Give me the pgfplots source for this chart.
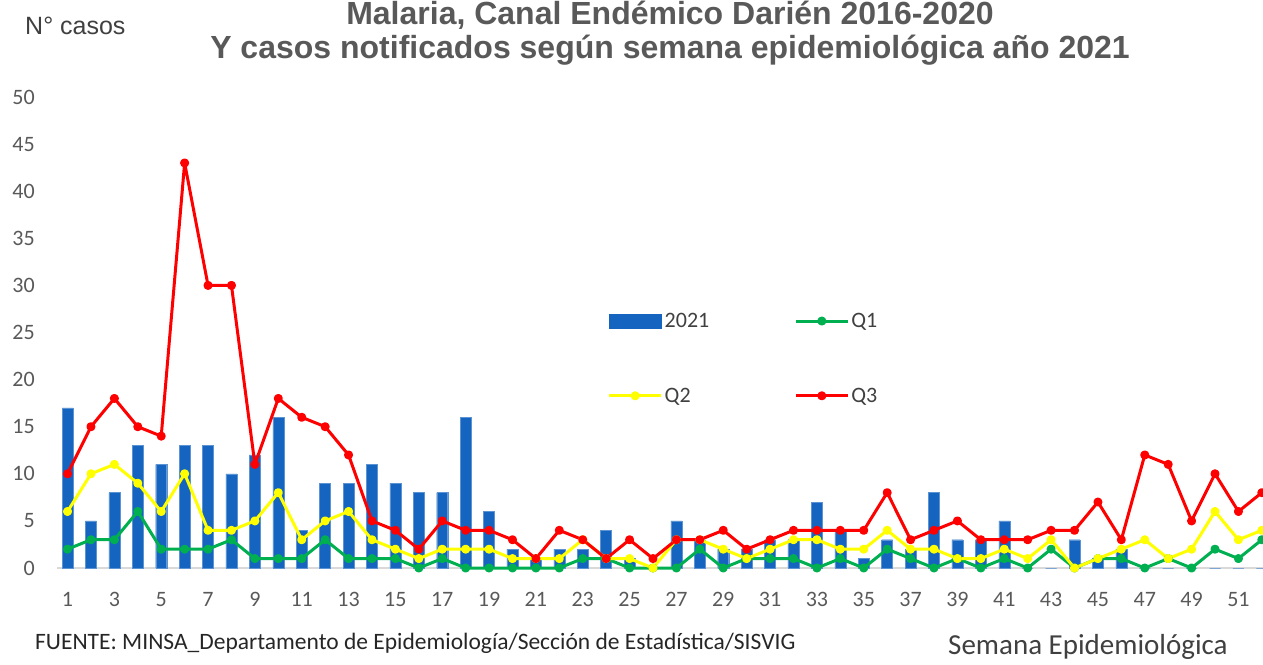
\documentclass[border=0pt]{standalone}
\usepackage{pgfplots}
\pgfplotsset{compat=1.18}
\usepackage{pgfplotstable}
\usepackage{fontspec}
\setmainfont{Carlito}
\newfontfamily\arialfont{Liberation Sans}
\definecolor{barblue}{HTML}{1565C0}
\definecolor{qgreen}{HTML}{00B050}
\definecolor{qyellow}{HTML}{FFFF00}
\definecolor{qred}{HTML}{FF0000}
\definecolor{txtgray}{HTML}{595959}
\definecolor{darktxt}{HTML}{404040}
\pgfplotstableread{
w b q1 q2 q3
1 17 2 6 10
2 5 3 10 15
3 8 3 11 18
4 13 6 9 15
5 11 2 6 14
6 13 2 10 43
7 13 2 4 30
8 10 3 4 30
9 12 1 5 11
10 16 1 8 18
11 4 1 3 16
12 9 3 5 15
13 9 1 6 12
14 11 1 3 5
15 9 1 2 4
16 8 0 1 2
17 8 1 2 5
18 16 0 2 4
19 6 0 2 4
20 2 0 1 3
21 1 0 1 1
22 2 0 1 4
23 2 1 3 3
24 4 1 1 1
25 1 0 1 3
26 0 0 0 1
27 5 0 3 3
28 3 2 3 3
29 2 0 2 4
30 2 1 1 2
31 3 1 2 3
32 3 1 3 4
33 7 0 3 4
34 4 1 2 4
35 1 0 2 4
36 3 2 4 8
37 2 1 2 3
38 8 0 2 4
39 3 1 1 5
40 3 0 1 3
41 5 1 2 3
42 0 0 1 3
43 0 2 3 4
44 3 0 0 4
45 1 1 1 7
46 2 1 2 3
47 0 0 3 12
48 0 1 1 11
49 0 0 2 5
50 0 2 6 10
51 0 1 3 6
52 0 3 4 8
}\datatable
\pgfplotsset{
  barleg/.style={legend image code/.code={\fill[barblue] (0pt,-7pt) rectangle (52pt,7pt);}},
  greenleg/.style={legend image code/.code={\draw[qgreen,line width=3pt] (0pt,0pt) -- (52pt,0pt); \fill[qgreen] (26pt,0pt) circle (3pt);}},
  yellowleg/.style={legend image code/.code={\draw[qyellow,line width=3pt] (0pt,0pt) -- (52pt,0pt); \fill[qyellow] (26pt,0pt) circle (3pt);}},
  redleg/.style={legend image code/.code={\draw[qred,line width=3pt] (0pt,0pt) -- (52pt,0pt); \fill[qred] (26pt,0pt) circle (3pt);}},
}
\begin{document}
\begin{tikzpicture}[x=1pt,y=1pt]
\useasboundingbox (0,0) rectangle (1263,664);
\begin{axis}[
  at={(57pt,96pt)}, anchor=south west,
  scale only axis, width=1206pt, height=471pt,
  xmin=0.55, xmax=52.05, ymin=0, ymax=50,
  axis x line*=bottom, axis y line*=left,
  x axis line style={draw=black!15, line width=1.5pt, -},
  y axis line style={draw=none},
  major tick length=0pt,
  xtick={1,3,...,51}, ytick={0,5,...,50},
  tick label style={font=\fontsize{22}{24}\selectfont, text=txtgray},
  /pgf/number format/assume math mode=true,
  yticklabel style={inner sep=0pt, xshift=-22pt},
  xticklabel style={inner sep=0pt, yshift=-24pt},
  legend columns=2,
  legend cell align=left,
  legend style={at={(0.454,0.550)}, anchor=north west, draw=none, fill=none,
    font=\fontsize{22}{24}\selectfont, text=darktxt, row sep=55pt,
    /tikz/every even column/.append style={column sep=83pt}},
  clip=false,
]
\addplot[ybar, bar width=11pt, fill=barblue, draw=barblue!70, barleg]
  table[x=w,y=b]{\datatable};
\addlegendentry{2021}
\addplot[color=qgreen, line width=3pt, line join=round, mark=*, mark size=3pt, greenleg]
  table[x=w,y=q1]{\datatable};
\addlegendentry{Q1}
\addplot[color=qyellow, line width=3pt, line join=round, mark=*, mark size=3pt, yellowleg]
  table[x=w,y=q2]{\datatable};
\addlegendentry{Q2}
\addplot[color=qred, line width=3pt, line join=round, mark=*, mark size=3pt, redleg]
  table[x=w,y=q3]{\datatable};
\addlegendentry{Q3}
\end{axis}
\node[text=txtgray, font=\arialfont\bfseries\fontsize{32}{34}\selectfont] at (670,649) {Malaria, Canal Endémico Darién 2016-2020};
\node[text=txtgray, font=\arialfont\bfseries\fontsize{32}{34}\selectfont] at (670,614) {Y casos notificados según semana epidemiológica año 2021};
\node[anchor=west, text=darktxt, font=\arialfont\fontsize{25}{27}\selectfont, inner sep=0pt] at (25,638) {N° casos};
\node[anchor=west, text=black!85, font=\fontsize{23.5}{25}\selectfont, inner sep=0pt] at (35,21) {FUENTE: MINSA\_Departamento de Epidemiología/Sección de Estadística/SISVIG};
\node[anchor=west, text=darktxt, font=\fontsize{29}{31}\selectfont, inner sep=0pt] at (948,17) {Semana Epidemiológica};
\end{tikzpicture}
\end{document}
